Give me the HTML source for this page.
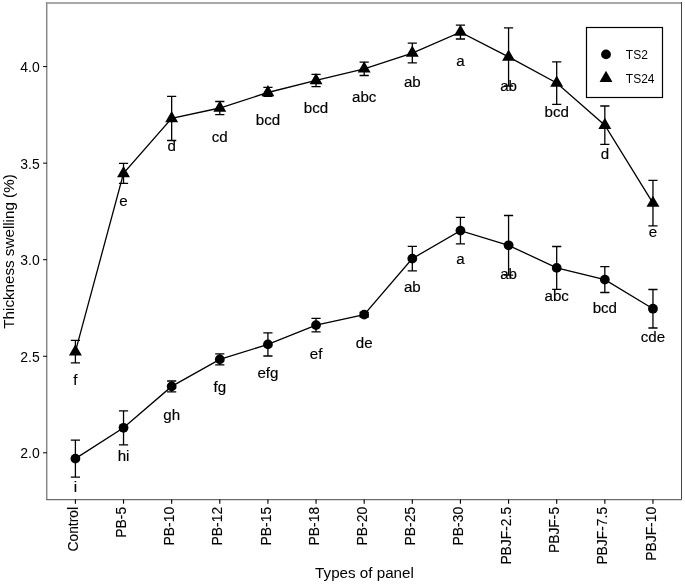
<!DOCTYPE html>
<html><head><meta charset="utf-8"><style>
html,body{margin:0;padding:0;background:#fff;}
svg{display:block;will-change:transform;}
text{font-family:"Liberation Sans",sans-serif;fill:#000;}
.lbl{stroke:#000;stroke-width:0.15px;}
.xt{stroke:#000;stroke-width:0.1px;}
</style></head><body>
<svg width="685" height="585" viewBox="0 0 685 585">
<rect width="685" height="585" fill="#fff"/>
<g shape-rendering="crispEdges">
<rect x="46" y="2" width="636" height="2" fill="#a8a8a8"/>
<rect x="46" y="2" width="1" height="498" fill="#888"/>
<rect x="47" y="4" width="1" height="495" fill="#c8c8c8"/>
<rect x="681" y="2" width="1" height="498" fill="#444"/>
<rect x="46" y="499" width="636" height="1" fill="#6c6c6c"/>
<rect x="46" y="500" width="636" height="1" fill="#dcdcdc"/>
</g>
<line x1="43" x2="47" y1="452.80" y2="452.80" stroke="#000" stroke-width="1"/>
<text transform="translate(39.7,458.15) scale(1,1.05)" text-anchor="end" font-size="14">2.0</text>
<line x1="43" x2="47" y1="356.25" y2="356.25" stroke="#000" stroke-width="1"/>
<text transform="translate(39.7,361.60) scale(1,1.05)" text-anchor="end" font-size="14">2.5</text>
<line x1="43" x2="47" y1="259.70" y2="259.70" stroke="#000" stroke-width="1"/>
<text transform="translate(39.7,265.05) scale(1,1.05)" text-anchor="end" font-size="14">3.0</text>
<line x1="43" x2="47" y1="163.15" y2="163.15" stroke="#000" stroke-width="1"/>
<text transform="translate(39.7,168.50) scale(1,1.05)" text-anchor="end" font-size="14">3.5</text>
<line x1="43" x2="47" y1="66.60" y2="66.60" stroke="#000" stroke-width="1"/>
<text transform="translate(39.7,71.95) scale(1,1.05)" text-anchor="end" font-size="14">4.0</text>
<line x1="75.40" x2="75.40" y1="499.6" y2="503.70" stroke="#000" stroke-width="1.15"/>
<text class="xt" transform="translate(78.00,506.9) rotate(-90) scale(1,1.06)" text-anchor="end" font-size="13.85">Control</text>
<line x1="123.53" x2="123.53" y1="499.6" y2="503.70" stroke="#000" stroke-width="1.15"/>
<text class="xt" transform="translate(126.13,506.9) rotate(-90) scale(1,1.06)" text-anchor="end" font-size="13.85">PB-5</text>
<line x1="171.66" x2="171.66" y1="499.6" y2="503.70" stroke="#000" stroke-width="1.15"/>
<text class="xt" transform="translate(174.26,506.9) rotate(-90) scale(1,1.06)" text-anchor="end" font-size="13.85">PB-10</text>
<line x1="219.79" x2="219.79" y1="499.6" y2="503.70" stroke="#000" stroke-width="1.15"/>
<text class="xt" transform="translate(222.39,506.9) rotate(-90) scale(1,1.06)" text-anchor="end" font-size="13.85">PB-12</text>
<line x1="267.92" x2="267.92" y1="499.6" y2="503.70" stroke="#000" stroke-width="1.15"/>
<text class="xt" transform="translate(270.52,506.9) rotate(-90) scale(1,1.06)" text-anchor="end" font-size="13.85">PB-15</text>
<line x1="316.05" x2="316.05" y1="499.6" y2="503.70" stroke="#000" stroke-width="1.15"/>
<text class="xt" transform="translate(318.65,506.9) rotate(-90) scale(1,1.06)" text-anchor="end" font-size="13.85">PB-18</text>
<line x1="364.18" x2="364.18" y1="499.6" y2="503.70" stroke="#000" stroke-width="1.15"/>
<text class="xt" transform="translate(366.78,506.9) rotate(-90) scale(1,1.06)" text-anchor="end" font-size="13.85">PB-20</text>
<line x1="412.31" x2="412.31" y1="499.6" y2="503.70" stroke="#000" stroke-width="1.15"/>
<text class="xt" transform="translate(414.91,506.9) rotate(-90) scale(1,1.06)" text-anchor="end" font-size="13.85">PB-25</text>
<line x1="460.44" x2="460.44" y1="499.6" y2="503.70" stroke="#000" stroke-width="1.15"/>
<text class="xt" transform="translate(463.04,506.9) rotate(-90) scale(1,1.06)" text-anchor="end" font-size="13.85">PB-30</text>
<line x1="508.57" x2="508.57" y1="499.6" y2="503.70" stroke="#000" stroke-width="1.15"/>
<text class="xt" transform="translate(511.17,506.9) rotate(-90) scale(1,1.06)" text-anchor="end" font-size="13.85">PBJF-2.5</text>
<line x1="556.70" x2="556.70" y1="499.6" y2="503.70" stroke="#000" stroke-width="1.15"/>
<text class="xt" transform="translate(559.30,506.9) rotate(-90) scale(1,1.06)" text-anchor="end" font-size="13.85">PBJF-5</text>
<line x1="604.83" x2="604.83" y1="499.6" y2="503.70" stroke="#000" stroke-width="1.15"/>
<text class="xt" transform="translate(607.43,506.9) rotate(-90) scale(1,1.06)" text-anchor="end" font-size="13.85">PBJF-7.5</text>
<line x1="652.96" x2="652.96" y1="499.6" y2="503.70" stroke="#000" stroke-width="1.15"/>
<text class="xt" transform="translate(655.56,506.9) rotate(-90) scale(1,1.06)" text-anchor="end" font-size="13.85">PBJF-10</text>
<text transform="translate(14,251.5) rotate(-90)" text-anchor="middle" font-size="15.2">Thickness swelling (%)</text>
<text x="364.5" y="578.3" text-anchor="middle" font-size="15.2">Types of panel</text>
<polyline points="75.40,351.65 123.53,173.40 171.66,118.40 219.79,108.00 267.92,92.50 316.05,80.40 364.18,68.80 412.31,53.05 460.44,32.10 508.57,56.90 556.70,83.05 604.83,125.20 652.96,203.10" fill="none" stroke="#000" stroke-width="1.3"/>
<polyline points="75.40,458.60 123.53,427.80 171.66,386.40 219.79,359.40 267.92,344.40 316.05,325.10 364.18,314.65 412.31,258.60 460.44,230.60 508.57,245.30 556.70,267.90 604.83,279.60 652.96,308.70" fill="none" stroke="#000" stroke-width="1.3"/>
<path d="M75.40,340.47V362.82M70.80,340.47H80.00M70.80,362.82H80.00" stroke="#000" stroke-width="1.3" fill="none"/>
<path d="M123.53,163.40V183.40M118.93,163.40H128.13M118.93,183.40H128.13" stroke="#000" stroke-width="1.3" fill="none"/>
<path d="M171.66,96.30V140.50M167.06,96.30H176.26M167.06,140.50H176.26" stroke="#000" stroke-width="1.3" fill="none"/>
<path d="M219.79,101.50V114.60M215.19,101.50H224.39M215.19,114.60H224.39" stroke="#000" stroke-width="1.3" fill="none"/>
<path d="M267.92,87.35V96.40M263.32,87.35H272.52M263.32,96.40H272.52" stroke="#000" stroke-width="1.3" fill="none"/>
<path d="M316.05,74.44V86.58M311.45,74.44H320.65M311.45,86.58H320.65" stroke="#000" stroke-width="1.3" fill="none"/>
<path d="M364.18,62.10V75.50M359.58,62.10H368.78M359.58,75.50H368.78" stroke="#000" stroke-width="1.3" fill="none"/>
<path d="M412.31,43.13V62.97M407.71,43.13H416.91M407.71,62.97H416.91" stroke="#000" stroke-width="1.3" fill="none"/>
<path d="M460.44,25.20V39.00M455.84,25.20H465.04M455.84,39.00H465.04" stroke="#000" stroke-width="1.3" fill="none"/>
<path d="M508.57,27.80V86.00M503.97,27.80H513.17M503.97,86.00H513.17" stroke="#000" stroke-width="1.3" fill="none"/>
<path d="M556.70,61.80V104.30M552.10,61.80H561.30M552.10,104.30H561.30" stroke="#000" stroke-width="1.3" fill="none"/>
<path d="M604.83,106.00V144.40M600.23,106.00H609.43M600.23,144.40H609.43" stroke="#000" stroke-width="1.3" fill="none"/>
<path d="M652.96,180.40V225.80M648.36,180.40H657.56M648.36,225.80H657.56" stroke="#000" stroke-width="1.3" fill="none"/>
<path d="M75.40,440.20V477.20M70.80,440.20H80.00M70.80,477.20H80.00" stroke="#000" stroke-width="1.3" fill="none"/>
<path d="M123.53,410.80V444.80M118.93,410.80H128.13M118.93,444.80H128.13" stroke="#000" stroke-width="1.3" fill="none"/>
<path d="M171.66,381.00V391.90M167.06,381.00H176.26M167.06,391.90H176.26" stroke="#000" stroke-width="1.3" fill="none"/>
<path d="M219.79,353.90V364.90M215.19,353.90H224.39M215.19,364.90H224.39" stroke="#000" stroke-width="1.3" fill="none"/>
<path d="M267.92,332.90V356.00M263.32,332.90H272.52M263.32,356.00H272.52" stroke="#000" stroke-width="1.3" fill="none"/>
<path d="M316.05,318.40V331.80M311.45,318.40H320.65M311.45,331.80H320.65" stroke="#000" stroke-width="1.3" fill="none"/>
<path d="M364.18,312.30V317.00M359.58,312.30H368.78M359.58,317.00H368.78" stroke="#000" stroke-width="1.3" fill="none"/>
<path d="M412.31,246.40V270.90M407.71,246.40H416.91M407.71,270.90H416.91" stroke="#000" stroke-width="1.3" fill="none"/>
<path d="M460.44,217.40V243.80M455.84,217.40H465.04M455.84,243.80H465.04" stroke="#000" stroke-width="1.3" fill="none"/>
<path d="M508.57,215.50V275.10M503.97,215.50H513.17M503.97,275.10H513.17" stroke="#000" stroke-width="1.3" fill="none"/>
<path d="M556.70,246.50V289.40M552.10,246.50H561.30M552.10,289.40H561.30" stroke="#000" stroke-width="1.3" fill="none"/>
<path d="M604.83,266.70V292.50M600.23,266.70H609.43M600.23,292.50H609.43" stroke="#000" stroke-width="1.3" fill="none"/>
<path d="M652.96,289.50V328.00M648.36,289.50H657.56M648.36,328.00H657.56" stroke="#000" stroke-width="1.3" fill="none"/>
<path d="M75.40,344.19L81.86,355.38L68.94,355.38Z" fill="#000"/>
<path d="M123.53,165.94L129.99,177.13L117.07,177.13Z" fill="#000"/>
<path d="M171.66,110.94L178.12,122.13L165.20,122.13Z" fill="#000"/>
<path d="M219.79,100.54L226.25,111.73L213.33,111.73Z" fill="#000"/>
<path d="M267.92,85.04L274.38,96.23L261.46,96.23Z" fill="#000"/>
<path d="M316.05,72.94L322.51,84.13L309.59,84.13Z" fill="#000"/>
<path d="M364.18,61.34L370.64,72.53L357.72,72.53Z" fill="#000"/>
<path d="M412.31,45.59L418.77,56.78L405.85,56.78Z" fill="#000"/>
<path d="M460.44,24.64L466.90,35.83L453.98,35.83Z" fill="#000"/>
<path d="M508.57,49.44L515.03,60.63L502.11,60.63Z" fill="#000"/>
<path d="M556.70,75.59L563.16,86.78L550.24,86.78Z" fill="#000"/>
<path d="M604.83,117.74L611.29,128.93L598.37,128.93Z" fill="#000"/>
<path d="M652.96,195.64L659.42,206.83L646.50,206.83Z" fill="#000"/>
<circle cx="75.40" cy="458.60" r="4.9" fill="#000"/>
<circle cx="123.53" cy="427.80" r="4.9" fill="#000"/>
<circle cx="171.66" cy="386.40" r="4.9" fill="#000"/>
<circle cx="219.79" cy="359.40" r="4.9" fill="#000"/>
<circle cx="267.92" cy="344.40" r="4.9" fill="#000"/>
<circle cx="316.05" cy="325.10" r="4.9" fill="#000"/>
<circle cx="364.18" cy="314.65" r="4.9" fill="#000"/>
<circle cx="412.31" cy="258.60" r="4.9" fill="#000"/>
<circle cx="460.44" cy="230.60" r="4.9" fill="#000"/>
<circle cx="508.57" cy="245.30" r="4.9" fill="#000"/>
<circle cx="556.70" cy="267.90" r="4.9" fill="#000"/>
<circle cx="604.83" cy="279.60" r="4.9" fill="#000"/>
<circle cx="652.96" cy="308.70" r="4.9" fill="#000"/>
<text class="lbl" transform="translate(75.40,384.60) scale(1.08,1)" text-anchor="middle" font-size="14">f</text>
<text class="lbl" transform="translate(123.53,206.40) scale(1.08,1)" text-anchor="middle" font-size="14">e</text>
<text class="lbl" transform="translate(171.66,151.22) scale(1.08,1)" text-anchor="middle" font-size="14">d</text>
<text class="lbl" transform="translate(219.79,141.75) scale(1.08,1)" text-anchor="middle" font-size="14">cd</text>
<text class="lbl" transform="translate(267.92,124.80) scale(1.08,1)" text-anchor="middle" font-size="14">bcd</text>
<text class="lbl" transform="translate(316.05,113.40) scale(1.08,1)" text-anchor="middle" font-size="14">bcd</text>
<text class="lbl" transform="translate(364.18,102.10) scale(1.08,1)" text-anchor="middle" font-size="14">abc</text>
<text class="lbl" transform="translate(412.31,87.05) scale(1.08,1)" text-anchor="middle" font-size="14">ab</text>
<text class="lbl" transform="translate(460.44,65.65) scale(1.08,1)" text-anchor="middle" font-size="14">a</text>
<text class="lbl" transform="translate(508.57,90.65) scale(1.08,1)" text-anchor="middle" font-size="14">ab</text>
<text class="lbl" transform="translate(556.70,117.05) scale(1.08,1)" text-anchor="middle" font-size="14">bcd</text>
<text class="lbl" transform="translate(604.83,159.25) scale(1.08,1)" text-anchor="middle" font-size="14">d</text>
<text class="lbl" transform="translate(652.96,236.60) scale(1.08,1)" text-anchor="middle" font-size="14">e</text>
<text class="lbl" transform="translate(75.40,491.60) scale(1.08,1)" text-anchor="middle" font-size="14">i</text>
<text class="lbl" transform="translate(123.53,460.90) scale(1.08,1)" text-anchor="middle" font-size="14">hi</text>
<text class="lbl" transform="translate(171.66,419.50) scale(1.08,1)" text-anchor="middle" font-size="14">gh</text>
<text class="lbl" transform="translate(219.79,392.20) scale(1.08,1)" text-anchor="middle" font-size="14">fg</text>
<text class="lbl" transform="translate(267.92,377.50) scale(1.08,1)" text-anchor="middle" font-size="14">efg</text>
<text class="lbl" transform="translate(316.05,358.55) scale(1.08,1)" text-anchor="middle" font-size="14">ef</text>
<text class="lbl" transform="translate(364.18,348.00) scale(1.08,1)" text-anchor="middle" font-size="14">de</text>
<text class="lbl" transform="translate(412.31,291.80) scale(1.08,1)" text-anchor="middle" font-size="14">ab</text>
<text class="lbl" transform="translate(460.44,263.80) scale(1.08,1)" text-anchor="middle" font-size="14">a</text>
<text class="lbl" transform="translate(508.57,279.40) scale(1.08,1)" text-anchor="middle" font-size="14">ab</text>
<text class="lbl" transform="translate(556.70,301.25) scale(1.08,1)" text-anchor="middle" font-size="14">abc</text>
<text class="lbl" transform="translate(604.83,312.70) scale(1.08,1)" text-anchor="middle" font-size="14">bcd</text>
<text class="lbl" transform="translate(652.96,342.40) scale(1.08,1)" text-anchor="middle" font-size="14">cde</text>
<rect x="586.5" y="27.5" width="76.0" height="70.0" fill="#fff" stroke="#000" stroke-width="1.2"/>
<circle cx="606" cy="54.4" r="4.9" fill="#000"/>
<path d="M606.00,70.74L612.46,81.93L599.54,81.93Z" fill="#000"/>
<text x="625.8" y="59.2" font-size="12">TS2</text>
<text x="625.8" y="83" font-size="12">TS24</text>
</svg>
</body></html>
